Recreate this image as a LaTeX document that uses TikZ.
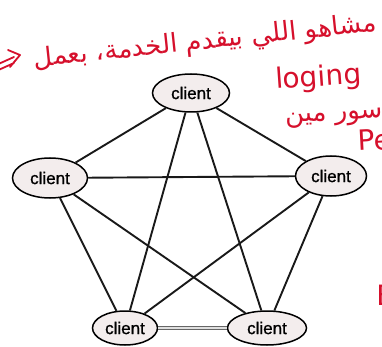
\documentclass[tikz,border=0pt]{standalone}
\usepackage{fontspec}
\setmainfont{Liberation Sans}
\newfontfamily\peerfont[FakeBold=1]{Liberation Sans}
\newfontfamily\arabicfont[Script=Arabic]{DejaVu Sans}
\newfontfamily\notefont{DejaVu Sans}
\TeXXeTstate=1
\definecolor{ink}{RGB}{214,16,44}
\definecolor{bubble}{RGB}{243,237,237}
\definecolor{wire}{RGB}{25,25,25}
\usetikzlibrary{shapes.geometric}
\tikzset{
  peer/.style={ellipse, draw=black, line width=1.5pt, fill=bubble,
    inner sep=0pt, font=\peerfont\fontsize{17}{17}\selectfont},
  edge/.style={draw=wire, line width=1.9pt},
  link/.style={draw=gray!80!black, line width=1.2pt, double=gray!25, double distance=1.8pt},
  note/.style={text=ink, inner sep=0pt, anchor=base},
}
\begin{document}
\begin{tikzpicture}[x=1pt,y=-1pt]
  \clip (0,0) rectangle (382,347);
  \fill[white] (0,0) rectangle (382,347);

  % the five peers
  \node[peer, minimum width=77pt, minimum height=38pt] (top) at (191,93) {client};
  \node[peer, minimum width=75pt, minimum height=40pt] (lft) at (50,178) {client};
  \node[peer, minimum width=71pt, minimum height=40pt] (rgt) at (331,176) {client};
  \node[peer, minimum width=65pt, minimum height=34pt] (bl) at (125,328) {client};
  \node[peer, minimum width=79pt, minimum height=34pt] (br) at (267,328) {client};

  % outer ring
  \draw[edge] (top) -- (lft);
  \draw[edge] (top) -- (rgt);
  \draw[edge] (lft) -- (bl);
  \draw[edge] (rgt) -- (br);
  \draw[link] (bl) -- (br);

  % inner star
  \draw[edge] (top) -- (bl);
  \draw[edge] (top) -- (br);
  \draw[edge] (lft) -- (rgt);
  \draw[edge] (lft) -- (br);
  \draw[edge] (rgt) -- (bl);

  % handwritten notes
  \node[note, rotate=6, font=\arabicfont\fontsize{26}{26}\selectfont] (n1) at (206,49)
    {\beginR مشاهو اللي بيقدم الخدمة، بعمل\endR};
  \node[note, rotate=4, font=\notefont\fontsize{28}{28}\selectfont] (n2) at (319,86) {loging};
  \node[note, rotate=3, font=\arabicfont\fontsize{26}{26}\selectfont] (n3) at (334,120)
    {\beginR سور مين\endR};
  \node[note, rotate=3, font=\notefont\fontsize{28}{28}\selectfont] (n4) at (375,150) {Pe};
  \node[note, font=\notefont\fontsize{28}{28}\selectfont] (n5) at (386,305) {B};

  % arrow pointing to the note
  \coordinate (tip) at (20,55);
  \draw[ink, line width=1.8pt, line cap=round, line join=round]
    (-6,66) -- (14,57) (-6,72) -- (14,63) (8,50) -- (tip) -- (10,67);
\end{tikzpicture}
\end{document}
